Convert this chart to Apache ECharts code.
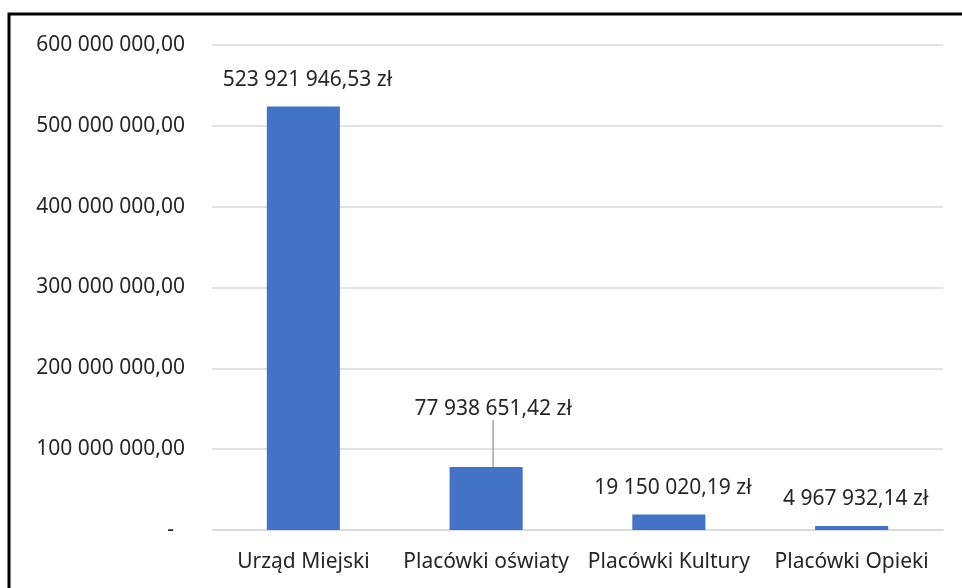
<!DOCTYPE html>
<html lang="pl">
<head>
    <meta charset="UTF-8">
    <title>Wydatki</title>
    <script src="https://cdn.jsdelivr.net/npm/echarts@6/dist/echarts.min.js"></script>
    <style>
        html, body { margin: 0; padding: 0; background: #fff; }
    </style>
</head>
<body>
<div id="main" style="width: 962px; height: 588px;"></div>
<script>
    var categories = ['Urząd Miejski', 'Placówki oświaty', 'Placówki Kultury', 'Placówki Opieki'];
    var values = [523921946.53, 77938651.42, 19150020.19, 4967932.14];
    var yTicks = [0, 100000000, 200000000, 300000000, 400000000, 500000000, 600000000];

    function fmt(v) {
        var parts = v.toFixed(2).split('.');
        var intPart = parts[0].replace(/\B(?=(\d{3})+(?!\d))/g, ' ');
        return intPart + ',' + parts[1];
    }

    var FONT = 'Noto Sans';
    var FS = 21;

    var seriesData = values.map(function (v, i) {
        var item = { value: v };
        if (i === 1) {
            item.labelLine = { show: true, lineStyle: { color: '#a6a6a6', width: 1.5 } };
        }
        return item;
    });

    var myCharts = echarts.init(document.getElementById('main'));
    var option = {
        backgroundColor: '#fff',
        animation: false,
        grid: {
            left: 212,
            right: 19,
            top: 45,
            bottom: 58
        },
        xAxis: {
            type: 'category',
            data: categories,
            axisTick: { show: false },
            axisLine: { lineStyle: { color: '#d9d9d9', width: 1.5 } },
            axisLabel: {
                interval: 0,
                hideOverlap: false,
                color: '#262626',
                fontFamily: FONT,
                fontSize: FS,
                margin: 22
            }
        },
        yAxis: {
            type: 'value',
            min: yTicks[0],
            max: yTicks[yTicks.length - 1],
            interval: yTicks[1] - yTicks[0],
            axisLine: { show: false },
            axisTick: { show: false },
            splitLine: { lineStyle: { color: '#d9d9d9', width: 1.5 } },
            axisLabel: {
                color: '#262626',
                fontFamily: FONT,
                fontSize: FS,
                margin: 27,
                formatter: function (v) {
                    return v === 0 ? '-  ' : fmt(v);
                }
            }
        },
        series: [{
            type: 'bar',
            data: seriesData,
            barCategoryGap: '60%',
            itemStyle: { color: '#4472C4' },
            label: {
                show: true,
                position: 'top',
                distance: 16,
                color: '#262626',
                fontFamily: FONT,
                fontSize: FS,
                formatter: function (p) {
                    return fmt(p.value) + ' zł';
                }
            },
            labelLayout: function (params) {
                if (params.dataIndex === 1) {
                    return { dx: 7, dy: -31 };
                }
                return { dx: 4 };
            }
        }],
        graphic: [{
            type: 'polyline',
            shape: { points: [[9, 588], [9, 14], [962, 14]] },
            style: { stroke: '#000', lineWidth: 3, fill: null },
            silent: true
        }]
    };
    myCharts.setOption(option);
</script>
</body>
</html>
